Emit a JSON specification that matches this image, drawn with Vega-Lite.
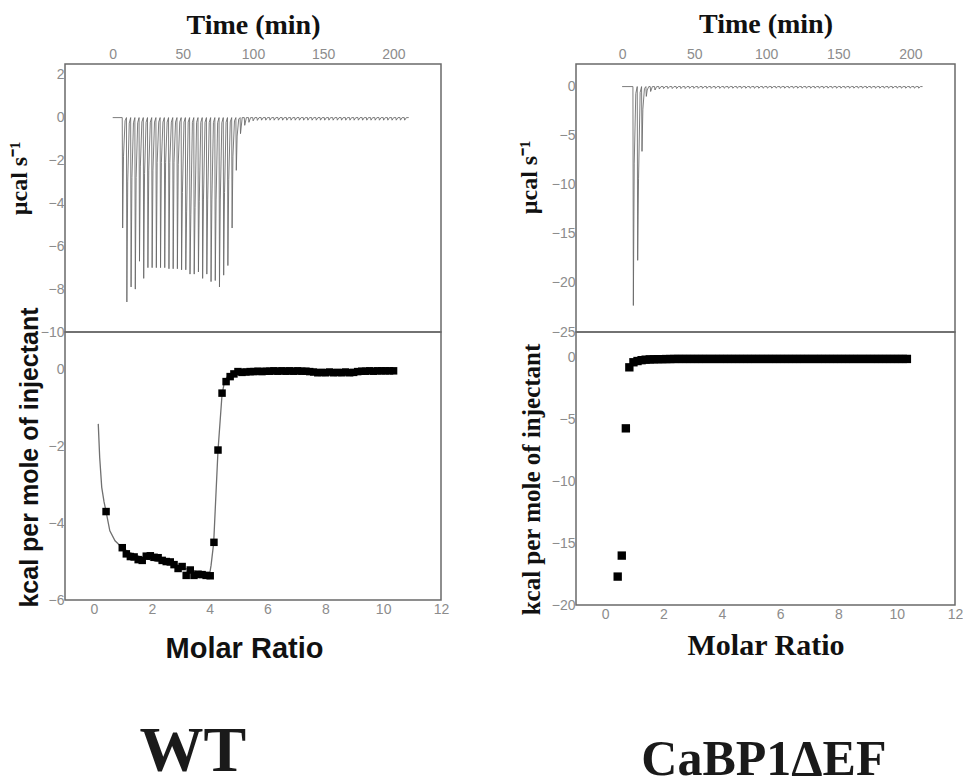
{
"$schema":"https://vega.github.io/schema/vega-lite/v6.json",
"background":"white",
"padding":{"left":6,"top":9,"right":0,"bottom":0},
"config":{
 "view":{"stroke":"#6a6a6a","strokeWidth":1.5},
 "axis":{"ticks":false,"grid":false,"domain":false,"labelFont":"Liberation Sans","labelFontSize":14,"labelColor":"#8c8c8c","labelPadding":2,"labelFlush":false,"labelOverlap":false,"titleColor":"#111111","titleFontWeight":"bold"}
},
"datasets":{
 "wtRaw":[{"t":0,"p":0},
 {"t":6.8,"p":0},{"t":7.1,"p":-5.15},{"t":7.7,"p":-1.8},{"t":8.8,"p":-0.15},
 {"t":9.8,"p":0},{"t":10.1,"p":-8.6},{"t":10.7,"p":-3.0},{"t":11.8,"p":-0.26},
 {"t":12.8,"p":0},{"t":13.1,"p":-7.9},{"t":13.7,"p":-2.8},{"t":14.8,"p":-0.24},
 {"t":15.8,"p":0},{"t":16.1,"p":-8.0},{"t":16.7,"p":-2.8},{"t":17.8,"p":-0.24},
 {"t":18.8,"p":0},{"t":19.1,"p":-6.7},{"t":19.7,"p":-2.3},{"t":20.8,"p":-0.2},
 {"t":21.8,"p":0},{"t":22.1,"p":-7.5},{"t":22.7,"p":-2.6},{"t":23.8,"p":-0.22},
 {"t":24.8,"p":0},{"t":25.1,"p":-7.0},{"t":25.7,"p":-2.45},{"t":26.8,"p":-0.21},
 {"t":27.8,"p":0},{"t":28.1,"p":-7.0},{"t":28.7,"p":-2.45},{"t":29.8,"p":-0.21},
 {"t":30.8,"p":0},{"t":31.1,"p":-7.0},{"t":31.7,"p":-2.1},{"t":32.8,"p":-0.21},
 {"t":33.8,"p":0},{"t":34.1,"p":-7.0},{"t":34.7,"p":-2.1},{"t":35.8,"p":-0.21},
 {"t":36.8,"p":0},{"t":37.1,"p":-7.0},{"t":37.7,"p":-2.1},{"t":38.8,"p":-0.21},
 {"t":39.8,"p":0},{"t":40.1,"p":-7.05},{"t":40.7,"p":-2.1},{"t":41.8,"p":-0.21},
 {"t":42.8,"p":0},{"t":43.1,"p":-7.05},{"t":43.7,"p":-2.1},{"t":44.8,"p":-0.21},
 {"t":45.8,"p":0},{"t":46.1,"p":-7.05},{"t":46.7,"p":-2.2},{"t":47.8,"p":-0.21},
 {"t":48.8,"p":0},{"t":49.1,"p":-7.1},{"t":49.7,"p":-3.5},{"t":50.8,"p":-0.21},
 {"t":51.8,"p":0},{"t":52.1,"p":-7.1},{"t":52.7,"p":-4.4},{"t":53.8,"p":-0.21},
 {"t":54.8,"p":0},{"t":55.1,"p":-7.3},{"t":55.7,"p":-4.5},{"t":56.8,"p":-0.22},
 {"t":57.8,"p":0},{"t":58.1,"p":-7.3},{"t":58.7,"p":-4.2},{"t":59.8,"p":-0.22},
 {"t":60.8,"p":0},{"t":61.1,"p":-7.2},{"t":61.7,"p":-3.9},{"t":62.8,"p":-0.22},
 {"t":63.8,"p":0},{"t":64.1,"p":-7.5},{"t":64.7,"p":-3.8},{"t":65.8,"p":-0.22},
 {"t":66.8,"p":0},{"t":67.1,"p":-7.3},{"t":67.7,"p":-3.8},{"t":68.8,"p":-0.22},
 {"t":69.8,"p":0},{"t":70.1,"p":-7.65},{"t":70.7,"p":-3.8},{"t":71.8,"p":-0.23},
 {"t":72.8,"p":0},{"t":73.1,"p":-7.6},{"t":73.7,"p":-3.8},{"t":74.8,"p":-0.23},
 {"t":75.8,"p":0},{"t":76.1,"p":-7.9},{"t":76.7,"p":-3.8},{"t":77.8,"p":-0.24},
 {"t":78.8,"p":0},{"t":79.1,"p":-7.35},{"t":79.7,"p":-3.5},{"t":80.8,"p":-0.22},
 {"t":81.8,"p":0},{"t":82.1,"p":-6.9},{"t":82.7,"p":-2.9},{"t":83.8,"p":-0.2},
 {"t":84.8,"p":0},{"t":85.1,"p":-5.15},{"t":85.7,"p":-1.8},{"t":86.8,"p":-0.15},
 {"t":87.8,"p":0},{"t":88.1,"p":-2.46},{"t":88.7,"p":-0.86},{"t":89.8,"p":-0.07},
 {"t":90.8,"p":0},{"t":91.1,"p":-0.75},{"t":92.3,"p":0},
 {"t":93.8,"p":0},{"t":94.1,"p":-0.36},{"t":95.3,"p":0},
 {"t":96.8,"p":0},{"t":97.1,"p":-0.22},{"t":98.3,"p":0},
 {"t":99.8,"p":0},{"t":100.1,"p":-0.15},{"t":101.3,"p":0},
 {"t":102.8,"p":0},{"t":103.1,"p":-0.13},{"t":104.3,"p":0},
 {"t":105.8,"p":0},{"t":106.1,"p":-0.12},{"t":107.3,"p":0},
 {"t":108.8,"p":0},{"t":109.1,"p":-0.12},{"t":110.3,"p":0},
 {"t":111.8,"p":0},{"t":112.1,"p":-0.12},{"t":113.3,"p":0},
 {"t":114.8,"p":0},{"t":115.1,"p":-0.12},{"t":116.3,"p":0},
 {"t":117.8,"p":0},{"t":118.1,"p":-0.12},{"t":119.3,"p":0},
 {"t":120.8,"p":0},{"t":121.1,"p":-0.12},{"t":122.3,"p":0},
 {"t":123.8,"p":0},{"t":124.1,"p":-0.12},{"t":125.3,"p":0},
 {"t":126.8,"p":0},{"t":127.1,"p":-0.12},{"t":128.3,"p":0},
 {"t":129.8,"p":0},{"t":130.1,"p":-0.12},{"t":131.3,"p":0},
 {"t":132.8,"p":0},{"t":133.1,"p":-0.12},{"t":134.3,"p":0},
 {"t":135.8,"p":0},{"t":136.1,"p":-0.12},{"t":137.3,"p":0},
 {"t":138.8,"p":0},{"t":139.1,"p":-0.12},{"t":140.3,"p":0},
 {"t":141.8,"p":0},{"t":142.1,"p":-0.12},{"t":143.3,"p":0},
 {"t":144.8,"p":0},{"t":145.1,"p":-0.12},{"t":146.3,"p":0},
 {"t":147.8,"p":0},{"t":148.1,"p":-0.12},{"t":149.3,"p":0},
 {"t":150.8,"p":0},{"t":151.1,"p":-0.12},{"t":152.3,"p":0},
 {"t":153.8,"p":0},{"t":154.1,"p":-0.12},{"t":155.3,"p":0},
 {"t":156.8,"p":0},{"t":157.1,"p":-0.12},{"t":158.3,"p":0},
 {"t":159.8,"p":0},{"t":160.1,"p":-0.12},{"t":161.3,"p":0},
 {"t":162.8,"p":0},{"t":163.1,"p":-0.12},{"t":164.3,"p":0},
 {"t":165.8,"p":0},{"t":166.1,"p":-0.12},{"t":167.3,"p":0},
 {"t":168.8,"p":0},{"t":169.1,"p":-0.12},{"t":170.3,"p":0},
 {"t":171.8,"p":0},{"t":172.1,"p":-0.12},{"t":173.3,"p":0},
 {"t":174.8,"p":0},{"t":175.1,"p":-0.12},{"t":176.3,"p":0},
 {"t":177.8,"p":0},{"t":178.1,"p":-0.12},{"t":179.3,"p":0},
 {"t":180.8,"p":0},{"t":181.1,"p":-0.12},{"t":182.3,"p":0},
 {"t":183.8,"p":0},{"t":184.1,"p":-0.12},{"t":185.3,"p":0},
 {"t":186.8,"p":0},{"t":187.1,"p":-0.12},{"t":188.3,"p":0},
 {"t":189.8,"p":0},{"t":190.1,"p":-0.12},{"t":191.3,"p":0},
 {"t":192.8,"p":0},{"t":193.1,"p":-0.12},{"t":194.3,"p":0},
 {"t":195.8,"p":0},{"t":196.1,"p":-0.12},{"t":197.3,"p":0},
 {"t":198.8,"p":0},{"t":199.1,"p":-0.12},{"t":200.3,"p":0},
 {"t":201.8,"p":0},{"t":202.1,"p":-0.12},{"t":203.3,"p":0},
 {"t":204.8,"p":0},{"t":205.1,"p":-0.12},{"t":206.3,"p":0},
 {"t":207.8,"p":0},{"t":208.1,"p":-0.12},{"t":209.3,"p":0},
 {"t":211,"p":0}],
 "efRaw":[{"t":0,"p":0},
 {"t":7.5,"p":0},{"t":7.8,"p":-22.3},{"t":8.4,"p":-7.8},{"t":9.5,"p":-0.7},
 {"t":10.5,"p":0},{"t":10.8,"p":-17.7},{"t":11.4,"p":-9.4},{"t":12.5,"p":-0.6},
 {"t":13.5,"p":0},{"t":13.8,"p":-6.6},{"t":14.4,"p":-2.3},{"t":15.5,"p":-0.2},
 {"t":16.5,"p":0},{"t":16.8,"p":-1.0},{"t":17.4,"p":-0.35},{"t":18.5,"p":0},
 {"t":19.5,"p":0},{"t":19.8,"p":-0.5},{"t":21,"p":0},
 {"t":22.5,"p":0},{"t":22.8,"p":-0.35},{"t":24,"p":0},
 {"t":25.5,"p":0},{"t":25.8,"p":-0.25},{"t":27,"p":0},
 {"t":28.5,"p":0},{"t":28.8,"p":-0.2},{"t":30,"p":0},
 {"t":31.5,"p":0},{"t":31.8,"p":-0.2},{"t":33,"p":0},
 {"t":34.5,"p":0},{"t":34.8,"p":-0.2},{"t":36,"p":0},
 {"t":37.5,"p":0},{"t":37.8,"p":-0.2},{"t":39,"p":0},
 {"t":40.5,"p":0},{"t":40.8,"p":-0.2},{"t":42,"p":0},
 {"t":43.5,"p":0},{"t":43.8,"p":-0.2},{"t":45,"p":0},
 {"t":46.5,"p":0},{"t":46.8,"p":-0.18},{"t":48,"p":0},
 {"t":49.5,"p":0},{"t":49.8,"p":-0.18},{"t":51,"p":0},
 {"t":52.5,"p":0},{"t":52.8,"p":-0.18},{"t":54,"p":0},
 {"t":55.5,"p":0},{"t":55.8,"p":-0.18},{"t":57,"p":0},
 {"t":58.5,"p":0},{"t":58.8,"p":-0.18},{"t":60,"p":0},
 {"t":61.5,"p":0},{"t":61.8,"p":-0.18},{"t":63,"p":0},
 {"t":64.5,"p":0},{"t":64.8,"p":-0.18},{"t":66,"p":0},
 {"t":67.5,"p":0},{"t":67.8,"p":-0.18},{"t":69,"p":0},
 {"t":70.5,"p":0},{"t":70.8,"p":-0.17},{"t":72,"p":0},
 {"t":73.5,"p":0},{"t":73.8,"p":-0.17},{"t":75,"p":0},
 {"t":76.5,"p":0},{"t":76.8,"p":-0.17},{"t":78,"p":0},
 {"t":79.5,"p":0},{"t":79.8,"p":-0.17},{"t":81,"p":0},
 {"t":82.5,"p":0},{"t":82.8,"p":-0.17},{"t":84,"p":0},
 {"t":85.5,"p":0},{"t":85.8,"p":-0.17},{"t":87,"p":0},
 {"t":88.5,"p":0},{"t":88.8,"p":-0.17},{"t":90,"p":0},
 {"t":91.5,"p":0},{"t":91.8,"p":-0.17},{"t":93,"p":0},
 {"t":94.5,"p":0},{"t":94.8,"p":-0.17},{"t":96,"p":0},
 {"t":97.5,"p":0},{"t":97.8,"p":-0.17},{"t":99,"p":0},
 {"t":100.5,"p":0},{"t":100.8,"p":-0.16},{"t":102,"p":0},
 {"t":103.5,"p":0},{"t":103.8,"p":-0.16},{"t":105,"p":0},
 {"t":106.5,"p":0},{"t":106.8,"p":-0.16},{"t":108,"p":0},
 {"t":109.5,"p":0},{"t":109.8,"p":-0.16},{"t":111,"p":0},
 {"t":112.5,"p":0},{"t":112.8,"p":-0.16},{"t":114,"p":0},
 {"t":115.5,"p":0},{"t":115.8,"p":-0.16},{"t":117,"p":0},
 {"t":118.5,"p":0},{"t":118.8,"p":-0.16},{"t":120,"p":0},
 {"t":121.5,"p":0},{"t":121.8,"p":-0.16},{"t":123,"p":0},
 {"t":124.5,"p":0},{"t":124.8,"p":-0.16},{"t":126,"p":0},
 {"t":127.5,"p":0},{"t":127.8,"p":-0.16},{"t":129,"p":0},
 {"t":130.5,"p":0},{"t":130.8,"p":-0.16},{"t":132,"p":0},
 {"t":133.5,"p":0},{"t":133.8,"p":-0.16},{"t":135,"p":0},
 {"t":136.5,"p":0},{"t":136.8,"p":-0.16},{"t":138,"p":0},
 {"t":139.5,"p":0},{"t":139.8,"p":-0.16},{"t":141,"p":0},
 {"t":142.5,"p":0},{"t":142.8,"p":-0.16},{"t":144,"p":0},
 {"t":145.5,"p":0},{"t":145.8,"p":-0.16},{"t":147,"p":0},
 {"t":148.5,"p":0},{"t":148.8,"p":-0.16},{"t":150,"p":0},
 {"t":151.5,"p":0},{"t":151.8,"p":-0.16},{"t":153,"p":0},
 {"t":154.5,"p":0},{"t":154.8,"p":-0.16},{"t":156,"p":0},
 {"t":157.5,"p":0},{"t":157.8,"p":-0.16},{"t":159,"p":0},
 {"t":160.5,"p":0},{"t":160.8,"p":-0.16},{"t":162,"p":0},
 {"t":163.5,"p":0},{"t":163.8,"p":-0.16},{"t":165,"p":0},
 {"t":166.5,"p":0},{"t":166.8,"p":-0.16},{"t":168,"p":0},
 {"t":169.5,"p":0},{"t":169.8,"p":-0.16},{"t":171,"p":0},
 {"t":172.5,"p":0},{"t":172.8,"p":-0.16},{"t":174,"p":0},
 {"t":175.5,"p":0},{"t":175.8,"p":-0.16},{"t":177,"p":0},
 {"t":178.5,"p":0},{"t":178.8,"p":-0.16},{"t":180,"p":0},
 {"t":181.5,"p":0},{"t":181.8,"p":-0.16},{"t":183,"p":0},
 {"t":184.5,"p":0},{"t":184.8,"p":-0.16},{"t":186,"p":0},
 {"t":187.5,"p":0},{"t":187.8,"p":-0.16},{"t":189,"p":0},
 {"t":190.5,"p":0},{"t":190.8,"p":-0.16},{"t":192,"p":0},
 {"t":193.5,"p":0},{"t":193.8,"p":-0.16},{"t":195,"p":0},
 {"t":196.5,"p":0},{"t":196.8,"p":-0.16},{"t":198,"p":0},
 {"t":199.5,"p":0},{"t":199.8,"p":-0.16},{"t":201,"p":0},
 {"t":202.5,"p":0},{"t":202.8,"p":-0.16},{"t":204,"p":0},
 {"t":205.5,"p":0},{"t":205.8,"p":-0.16},{"t":207,"p":0},
 {"t":208.5,"p":0}],
 "wtInt":[{"mr":0.42,"h":-3.70},{"mr":0.98,"h":-4.64},{"mr":1.12,"h":-4.80},{"mr":1.26,"h":-4.87},{"mr":1.39,"h":-4.88},{"mr":1.53,"h":-4.95},{"mr":1.67,"h":-4.97},{"mr":1.81,"h":-4.86},{"mr":1.95,"h":-4.85},{"mr":2.08,"h":-4.89},{"mr":2.22,"h":-4.90},{"mr":2.36,"h":-4.97},{"mr":2.50,"h":-5.00},{"mr":2.64,"h":-5.01},{"mr":2.77,"h":-5.08},{"mr":2.91,"h":-5.18},{"mr":3.05,"h":-5.13},{"mr":3.19,"h":-5.36},{"mr":3.33,"h":-5.22},{"mr":3.46,"h":-5.36},{"mr":3.60,"h":-5.33},{"mr":3.74,"h":-5.34},{"mr":3.88,"h":-5.36},{"mr":4.02,"h":-5.37},{"mr":4.15,"h":-4.50},{"mr":4.29,"h":-2.10},{"mr":4.43,"h":-0.62},{"mr":4.57,"h":-0.32},{"mr":4.71,"h":-0.19},{"mr":4.84,"h":-0.12},{"mr":4.98,"h":-0.06},{"mr":5.12,"h":-0.08},{"mr":5.26,"h":-0.07},{"mr":5.40,"h":-0.06},{"mr":5.53,"h":-0.06},{"mr":5.67,"h":-0.05},{"mr":5.81,"h":-0.06},{"mr":5.95,"h":-0.05},{"mr":6.08,"h":-0.05},{"mr":6.22,"h":-0.04},{"mr":6.36,"h":-0.05},{"mr":6.50,"h":-0.04},{"mr":6.64,"h":-0.05},{"mr":6.77,"h":-0.04},{"mr":6.91,"h":-0.05},{"mr":7.05,"h":-0.04},{"mr":7.19,"h":-0.05},{"mr":7.33,"h":-0.05},{"mr":7.46,"h":-0.06},{"mr":7.60,"h":-0.07},{"mr":7.74,"h":-0.09},{"mr":7.88,"h":-0.08},{"mr":8.01,"h":-0.09},{"mr":8.15,"h":-0.07},{"mr":8.29,"h":-0.09},{"mr":8.43,"h":-0.08},{"mr":8.57,"h":-0.09},{"mr":8.70,"h":-0.07},{"mr":8.84,"h":-0.09},{"mr":8.98,"h":-0.08},{"mr":9.12,"h":-0.06},{"mr":9.26,"h":-0.05},{"mr":9.39,"h":-0.05},{"mr":9.53,"h":-0.04},{"mr":9.67,"h":-0.05},{"mr":9.81,"h":-0.04},{"mr":9.95,"h":-0.04},{"mr":10.08,"h":-0.04},{"mr":10.22,"h":-0.04},{"mr":10.36,"h":-0.04}],
 "wtFit":[{"mr":0.15,"h":-1.42},{"mr":0.2,"h":-2.3},{"mr":0.27,"h":-3.07},{"mr":0.35,"h":-3.45},{"mr":0.42,"h":-3.70},{"mr":0.55,"h":-4.2},{"mr":0.73,"h":-4.46},{"mr":0.98,"h":-4.64},{"mr":1.25,"h":-4.77},{"mr":1.6,"h":-4.88},{"mr":2.0,"h":-4.96},{"mr":2.5,"h":-5.05},{"mr":3.0,"h":-5.15},{"mr":3.5,"h":-5.25},{"mr":3.9,"h":-5.33},{"mr":4.0,"h":-5.33},{"mr":4.05,"h":-5.1},{"mr":4.14,"h":-4.52},{"mr":4.29,"h":-2.11},{"mr":4.43,"h":-0.65},{"mr":4.52,"h":-0.3},{"mr":4.65,"h":-0.15},{"mr":4.9,"h":-0.08},{"mr":5.5,"h":-0.05},{"mr":10.4,"h":-0.04}],
 "efInt":[{"mr":0.43,"h":-17.7},{"mr":0.57,"h":-16.0},{"mr":0.71,"h":-5.7},{"mr":0.83,"h":-0.76},{"mr":0.97,"h":-0.35},{"mr":1.11,"h":-0.25},{"mr":1.25,"h":-0.18},{"mr":1.39,"h":-0.14},{"mr":1.53,"h":-0.12},{"mr":1.67,"h":-0.11},{"mr":1.81,"h":-0.10},{"mr":1.95,"h":-0.10},{"mr":2.09,"h":-0.09},{"mr":2.23,"h":-0.09},{"mr":2.37,"h":-0.08},{"mr":2.51,"h":-0.08},{"mr":2.65,"h":-0.08},{"mr":2.79,"h":-0.08},{"mr":2.93,"h":-0.08},{"mr":3.07,"h":-0.08},{"mr":3.21,"h":-0.08},{"mr":3.35,"h":-0.08},{"mr":3.49,"h":-0.08},{"mr":3.63,"h":-0.08},{"mr":3.77,"h":-0.08},{"mr":3.91,"h":-0.08},{"mr":4.05,"h":-0.08},{"mr":4.19,"h":-0.08},{"mr":4.33,"h":-0.08},{"mr":4.47,"h":-0.08},{"mr":4.61,"h":-0.08},{"mr":4.75,"h":-0.08},{"mr":4.89,"h":-0.08},{"mr":5.03,"h":-0.08},{"mr":5.17,"h":-0.08},{"mr":5.31,"h":-0.08},{"mr":5.45,"h":-0.08},{"mr":5.59,"h":-0.08},{"mr":5.73,"h":-0.08},{"mr":5.87,"h":-0.08},{"mr":6.01,"h":-0.08},{"mr":6.15,"h":-0.08},{"mr":6.29,"h":-0.08},{"mr":6.43,"h":-0.08},{"mr":6.57,"h":-0.08},{"mr":6.71,"h":-0.08},{"mr":6.85,"h":-0.08},{"mr":6.99,"h":-0.08},{"mr":7.13,"h":-0.08},{"mr":7.27,"h":-0.08},{"mr":7.41,"h":-0.08},{"mr":7.55,"h":-0.08},{"mr":7.69,"h":-0.08},{"mr":7.83,"h":-0.08},{"mr":7.97,"h":-0.08},{"mr":8.11,"h":-0.08},{"mr":8.25,"h":-0.08},{"mr":8.39,"h":-0.08},{"mr":8.53,"h":-0.08},{"mr":8.67,"h":-0.08},{"mr":8.81,"h":-0.08},{"mr":8.95,"h":-0.08},{"mr":9.09,"h":-0.08},{"mr":9.23,"h":-0.08},{"mr":9.37,"h":-0.08},{"mr":9.51,"h":-0.08},{"mr":9.65,"h":-0.08},{"mr":9.79,"h":-0.08},{"mr":9.93,"h":-0.08},{"mr":10.07,"h":-0.08},{"mr":10.21,"h":-0.08},{"mr":10.35,"h":-0.08}]
},
"spacing":66,
"hconcat":[
 {"bounds":"flush","spacing":0,
  "title":{"text":"WT","orient":"bottom","anchor":"middle","font":"Liberation Serif","fontSize":64,"fontWeight":"bold","color":"#1a1a1a","offset":56,"dx":-35},
  "vconcat":[
  {"width":376,"height":268,"data":{"name":"wtRaw"},
   "mark":{"type":"line","color":"#666666","strokeWidth":1,"opacity":0.85,"clip":true},
   "encoding":{
    "x":{"field":"t","type":"quantitative","scale":{"domain":[-34,234],"nice":false,"zero":false},
     "axis":{"orient":"top","values":[0,50,100,150,200],"title":"Time (min)","titleFont":"Liberation Serif","titleFontSize":28,"titleBaseline":"alphabetic","titleY":-31,"labelPadding":3}},
    "y":{"field":"p","type":"quantitative","scale":{"domain":[-10,2.5],"nice":false,"zero":false},
     "axis":{"values":[2,0,-2,-4,-6,-8,-10],"title":"µcal s⁻¹","titleFont":"Liberation Serif","titleFontSize":24,"titleBaseline":"alphabetic","titleX":-39,"titleY":114,"labelPadding":1}}}},
  {"width":376,"height":268,
   "encoding":{
    "x":{"field":"mr","type":"quantitative","scale":{"domain":[-1,12],"nice":false,"zero":false},
     "axis":{"values":[0,2,4,6,8,10,12],"title":"Molar Ratio","titleFont":"Liberation Sans","titleFontSize":29,"titleBaseline":"alphabetic","titleY":57,"titleX":179,"labelPadding":2}},
    "y":{"field":"h","type":"quantitative","scale":{"domain":[-6,0.97],"nice":false,"zero":false},
     "axis":{"values":[0,-2,-4,-6],"title":"kcal per mole of injectant","titleFont":"Liberation Sans","titleFontSize":25,"titleBaseline":"alphabetic","titleX":-28,"titleY":125,"labelPadding":1}}},
   "layer":[
    {"data":{"name":"wtFit"},"mark":{"type":"line","color":"#707070","strokeWidth":1.3}},
    {"data":{"name":"wtInt"},"mark":{"type":"point","shape":"square","filled":true,"color":"#000000","opacity":1,"size":56}}
   ]}
 ]},
 {"bounds":"flush","spacing":0,
  "title":{"text":"CaBP1ΔEF","orient":"bottom","anchor":"middle","font":"Liberation Serif","fontSize":50,"fontWeight":"bold","color":"#1a1a1a","offset":74,"dx":24},
  "vconcat":[
  {"width":379,"height":268,"data":{"name":"efRaw"},
   "mark":{"type":"line","color":"#666666","strokeWidth":1,"opacity":0.85,"clip":true},
   "encoding":{
    "x":{"field":"t","type":"quantitative","scale":{"domain":[-32,231],"nice":false,"zero":false},
     "axis":{"orient":"top","values":[0,50,100,150,200],"title":"Time (min)","titleFont":"Liberation Serif","titleFontSize":28,"titleBaseline":"alphabetic","titleY":-32,"labelPadding":3}},
    "y":{"field":"p","type":"quantitative","scale":{"domain":[-25,2.3],"nice":false,"zero":false},
     "axis":{"values":[0,-5,-10,-15,-20,-25],"title":"µcal s⁻¹","titleFont":"Liberation Serif","titleFontSize":24,"titleBaseline":"alphabetic","titleX":-40,"titleY":113,"labelPadding":1}}}},
  {"width":379,"height":273,"data":{"name":"efInt"},
   "mark":{"type":"point","shape":"square","filled":true,"color":"#000000","opacity":1,"size":70},
   "encoding":{
    "x":{"field":"mr","type":"quantitative","scale":{"domain":[-1,12],"nice":false,"zero":false},
     "axis":{"values":[0,2,4,6,8,10,12],"title":"Molar Ratio","titleFont":"Liberation Serif","titleFontSize":30,"titleBaseline":"alphabetic","titleY":49,"labelPadding":2}},
    "y":{"field":"h","type":"quantitative","scale":{"domain":[-20,2.1],"nice":false,"zero":false},
     "axis":{"values":[0,-5,-10,-15,-20],"title":"kcal per mole of injectant","titleFont":"Liberation Serif","titleFontSize":25,"titleBaseline":"alphabetic","titleX":-37,"titleY":147,"labelPadding":1}}}}
 ]}
]
}
